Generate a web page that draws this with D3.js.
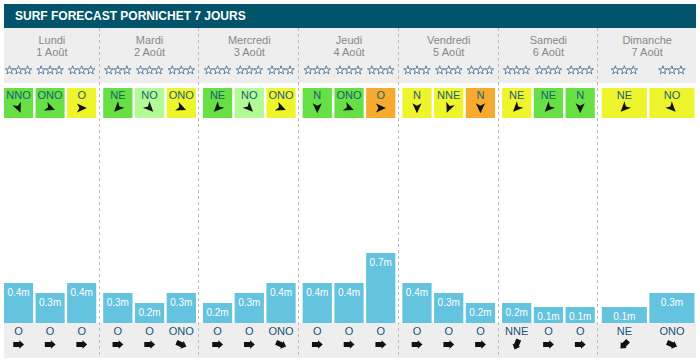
<!DOCTYPE html>
<html><head><meta charset="utf-8">
<script src="https://cdn.jsdelivr.net/npm/d3@7"></script>
<style>
html,body{margin:0;padding:0;background:#fff;}
svg{display:block;font-family:"Liberation Sans",Arial,sans-serif;}
</style></head>
<body>
<svg id="c" width="700" height="361"></svg>
<script>
const title = "SURF FORECAST PORNICHET 7 JOURS";
const days = ["Lundi","Mardi","Mercredi","Jeudi","Vendredi","Samedi","Dimanche"];
const dates = ["1 Août","2 Août","3 Août","4 Août","5 Août","6 Août","7 Août"];
const slotsPerDay = [3,3,3,3,3,3,2];
const windDirs = ["NNO","ONO","O", "NE","NO","ONO", "NE","NO","ONO", "N","ONO","O", "N","NNE","N", "NE","NE","N", "NE","NO"];
const windLevels = ["g","g","y", "g","lg","y", "g","lg","y", "g","g","o", "y","y","o", "y","g","g", "y","y"];
const swellHeights = [0.4,0.3,0.4, 0.3,0.2,0.3, 0.2,0.3,0.4, 0.4,0.4,0.7, 0.4,0.3,0.2, 0.2,0.1,0.1, 0.1,0.3];
const swellDirs = ["O","O","O", "O","O","ONO", "O","O","ONO", "O","O","O", "O","O","O", "NNE","O","O", "NE","ONO"];

const levelColor = {g:"#66e044", lg:"#b2fa96", y:"#eef52d", o:"#f6ab2f"};
const compass = ["N","NNE","NE","ENE","E","ESE","SE","SSE","S","SSO","SO","OSO","O","ONO","NO","NNO"];
const dirAngle = d3.scaleOrdinal().domain(compass).range(compass.map((d,i)=>i*22.5));

const slots = [];
let k = 0;
slotsPerDay.forEach((n,di)=>{ for(let s=0;s<n;s++){ slots.push({day:di, idx:s, n:n, wdir:windDirs[k], wlev:windLevels[k], h:swellHeights[k], sdir:swellDirs[k]}); k++; } });

const svg = d3.select("#c");
const X0 = 4, X1 = 696;
const dayX = d3.scaleBand().domain(d3.range(days.length)).range([0, 698]);
const gap = 2.5, inset = 3.5;
function slotScale(di, n){
  const a = Math.max(X0, dayX(di) + inset), b = dayX(di) + dayX.step() - inset;
  const W = b - a;
  return d3.scaleBand().domain(d3.range(n)).range([a, b]).paddingInner(gap*n/(W+gap));
}
slots.forEach(s=>{ const sc = slotScale(s.day, s.n); s.x = sc(s.idx); s.w = sc.bandwidth(); s.cx = s.x + s.w/2; });

svg.append("rect").attr("x",X0).attr("y",4).attr("width",X1-X0).attr("height",24).attr("fill","#02546a");
svg.append("text").attr("x",15).attr("y",19.5).attr("fill","#fff").attr("font-weight","bold").attr("font-size",12).text(title);

svg.append("rect").attr("x",X0).attr("y",28).attr("width",X1-X0).attr("height",55).attr("fill","#eeeeee");
const base = 323;
svg.append("rect").attr("x",X0).attr("y",base).attr("width",X1-X0).attr("height",35).attr("fill","#eeeeee");

const dg = svg.append("g");
days.forEach((d,i)=>{
  const cx = Math.max(X0, dayX(i)) + (Math.min(X1, dayX(i)+dayX.step()) - Math.max(X0, dayX(i)))/2;
  dg.append("text").attr("x",cx).attr("y",43.5).attr("text-anchor","middle").attr("font-size",11).attr("fill","#888").text(d);
  dg.append("text").attr("x",cx).attr("y",55.5).attr("text-anchor","middle").attr("font-size",11).attr("fill","#888").text(dates[i]);
});

const star = d3.symbol().type(d3.symbolStar).size(23);
slots.forEach(s=>{
  [-9,0,9].forEach(o=>{
    svg.append("path").attr("d",star()).attr("transform",`translate(${s.cx+o},70.3)`)
      .attr("fill","#fff").attr("stroke","#4f7393").attr("stroke-width",0.9);
  });
});

const windArrow = "M0,-5.2 L4.6,4.8 L0,2.2 L-4.6,4.8 Z";
slots.forEach(s=>{
  svg.append("rect").attr("x",s.x).attr("y",88).attr("width",s.w).attr("height",30).attr("fill",levelColor[s.wlev]);
  svg.append("text").attr("x",s.cx).attr("y",99).attr("text-anchor","middle").attr("font-size",11).attr("fill","#1b5d79").text(s.wdir);
  svg.append("path").attr("d",windArrow).attr("fill","#111")
    .attr("transform",`translate(${s.cx},108) rotate(${dirAngle(s.wdir)+180})`);
});

const hScale = d3.scaleLinear().domain([0,1]).range([0,100]);
slots.forEach(s=>{
  const h = Math.max(hScale(s.h), 16);
  svg.append("rect").attr("x",s.x).attr("y",base-h).attr("width",s.w).attr("height",h).attr("fill","#64c3de");
  svg.append("text").attr("x",s.cx).attr("y",base-h+12.5).attr("text-anchor","middle").attr("font-size",10).attr("fill","#fff").text(s.h.toFixed(1)+"m");
});

const swellArrow = "M0,-5.5 L4.2,-0.8 L2.6,-0.8 L2.6,5.3 L-2.6,5.3 L-2.6,-0.8 L-4.2,-0.8 Z";
slots.forEach(s=>{
  svg.append("text").attr("x",s.cx).attr("y",335).attr("text-anchor","middle").attr("font-size",11).attr("fill","#16557a").text(s.sdir);
  svg.append("path").attr("d",swellArrow).attr("fill","#111")
    .attr("transform",`translate(${s.cx},344.5) rotate(${dirAngle(s.sdir)+180})`);
});

for(let i=1;i<days.length;i++){
  const x = Math.round(dayX(i)) - 0.5;
  svg.append("line").attr("x1",x).attr("x2",x).attr("y1",28).attr("y2",358)
    .attr("stroke","#bbb").attr("stroke-width",1).attr("stroke-dasharray","3,3");
}
</script>
</body></html>
